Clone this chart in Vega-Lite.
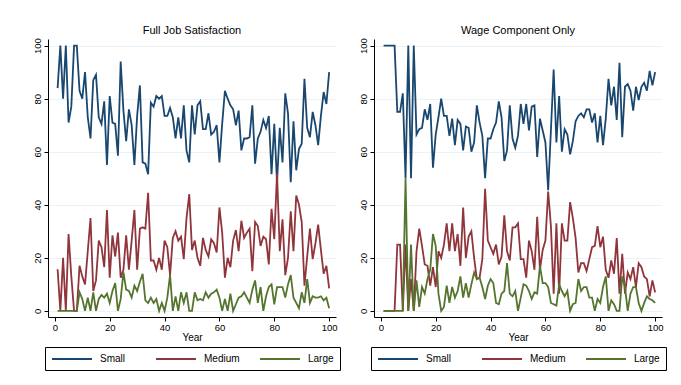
{
  "$schema": "https://vega.github.io/schema/vega-lite/v6.json",
  "background": "white",
  "padding": {"left": 5, "top": 24, "right": 5, "bottom": 5},
  "datasets": {
    "full": [
      {"Year":1,"Small":84,"Medium":15.7,"Large":0},{"Year":2,"Small":100,"Medium":0,"Large":0},{"Year":3,"Small":80,"Medium":20,"Large":0},{"Year":4,"Small":100,"Medium":0,"Large":0},{"Year":5,"Small":71,"Medium":29,"Large":0},
      {"Year":6,"Small":77,"Medium":13,"Large":0},{"Year":7,"Small":100,"Medium":0,"Large":0},{"Year":8,"Small":100,"Medium":0,"Large":0},{"Year":9,"Small":83,"Medium":17,"Large":7},{"Year":10,"Small":80,"Medium":13,"Large":4.5},
      {"Year":11,"Small":90,"Medium":10,"Large":0},{"Year":12,"Small":73,"Medium":22.5,"Large":5},{"Year":13,"Small":65,"Medium":35,"Large":0},{"Year":14,"Small":87,"Medium":7.5,"Large":7},{"Year":15,"Small":89,"Medium":11.5,"Large":0},
      {"Year":16,"Small":73,"Medium":26.5,"Large":4.5},{"Year":17,"Small":70.5,"Medium":24,"Large":6},{"Year":18,"Small":79,"Medium":16.5,"Large":5},{"Year":19,"Small":55,"Medium":38,"Large":6.5},{"Year":20,"Small":81,"Medium":12.5,"Large":3},
      {"Year":21,"Small":71,"Medium":28.5,"Large":7.5},{"Year":22,"Small":70.5,"Medium":20.5,"Large":10.5},{"Year":23,"Small":58.5,"Medium":29.5,"Large":0},{"Year":24,"Small":94,"Medium":12.5,"Large":4.5},{"Year":25,"Small":75.5,"Medium":15.5,"Large":14.5},
      {"Year":26,"Small":64,"Medium":28.5,"Large":8},{"Year":27,"Small":76,"Medium":15.5,"Large":7.5},{"Year":28,"Small":70,"Medium":26.5,"Large":5},{"Year":29,"Small":55,"Medium":38,"Large":9.5},{"Year":30,"Small":73.5,"Medium":15.5,"Large":7.5},
      {"Year":31,"Small":85,"Medium":31,"Large":11},{"Year":32,"Small":56,"Medium":31.5,"Large":14},{"Year":33,"Small":55.5,"Medium":31,"Large":4},{"Year":34,"Small":51.5,"Medium":44.5,"Large":3},{"Year":35,"Small":78.5,"Medium":19,"Large":5},
      {"Year":36,"Small":77,"Medium":19,"Large":3},{"Year":37,"Small":81,"Medium":15.5,"Large":4.5},{"Year":38,"Small":80,"Medium":20,"Large":0},{"Year":39,"Small":81,"Medium":15.5,"Large":3},{"Year":40,"Small":73.5,"Medium":26.5,"Large":0},
      {"Year":41,"Small":73.5,"Medium":24,"Large":5},{"Year":42,"Small":76.5,"Medium":13.5,"Large":13.5},{"Year":43,"Small":73,"Medium":27.5,"Large":0},{"Year":44,"Small":65,"Medium":30,"Large":5.5},{"Year":45,"Small":73,"Medium":26.5,"Large":0},
      {"Year":46,"Small":65,"Medium":28,"Large":7},{"Year":47,"Small":77.5,"Medium":19.5,"Large":3},{"Year":48,"Small":60.5,"Medium":35,"Large":7},{"Year":49,"Small":56,"Medium":44,"Large":0},{"Year":50,"Small":77.5,"Medium":23,"Large":0},
      {"Year":51,"Small":66.5,"Medium":26.5,"Large":7},{"Year":52,"Small":77.5,"Medium":20,"Large":4},{"Year":53,"Small":79,"Medium":17,"Large":4.5},{"Year":54,"Small":68.5,"Medium":27.5,"Large":4},{"Year":55,"Small":68.5,"Medium":23,"Large":7},
      {"Year":56,"Small":74.5,"Medium":20.5,"Large":5},{"Year":57,"Small":66.5,"Medium":27,"Large":6.5},{"Year":58,"Small":67.5,"Medium":25.5,"Large":7},{"Year":59,"Small":70,"Medium":22,"Large":8},{"Year":60,"Small":56,"Medium":39,"Large":5},
      {"Year":61,"Small":70.5,"Medium":29.5,"Large":0},{"Year":62,"Small":83,"Medium":12.5,"Large":4.5},{"Year":63,"Small":80,"Medium":20,"Large":0},{"Year":64,"Small":77.5,"Medium":16.5,"Large":6.5},{"Year":65,"Small":76,"Medium":26.5,"Large":0},
      {"Year":66,"Small":70,"Medium":30.5,"Large":2.5},{"Year":67,"Small":75.5,"Medium":22.5,"Large":5},{"Year":68,"Small":60.5,"Medium":34,"Large":5.5},{"Year":69,"Small":65,"Medium":27.5,"Large":7},{"Year":70,"Small":65,"Medium":29.5,"Large":5},
      {"Year":71,"Small":65.5,"Medium":31,"Large":3},{"Year":72,"Small":77.5,"Medium":15,"Large":8},{"Year":73,"Small":55.5,"Medium":33.5,"Large":11.5},{"Year":74,"Small":65,"Medium":32,"Large":3},{"Year":75,"Small":67.5,"Medium":24.5,"Large":9},
      {"Year":76,"Small":72,"Medium":28,"Large":0},{"Year":77,"Small":69,"Medium":27,"Large":5.5},{"Year":78,"Small":73.5,"Medium":17.5,"Large":9},{"Year":79,"Small":51.5,"Medium":38.5,"Large":10},{"Year":80,"Small":70.5,"Medium":27,"Large":2.5},
      {"Year":81,"Small":48.5,"Medium":52,"Large":9},{"Year":82,"Small":69,"Medium":22.5,"Large":9},{"Year":83,"Small":56,"Medium":34.5,"Large":9},{"Year":84,"Small":82,"Medium":13.5,"Large":5},{"Year":85,"Small":74.5,"Medium":20,"Large":10},
      {"Year":86,"Small":48.5,"Medium":37.5,"Large":13.5},{"Year":87,"Small":71.5,"Medium":22.5,"Large":5},{"Year":88,"Small":53,"Medium":43.5,"Large":3},{"Year":89,"Small":61,"Medium":40,"Large":1},{"Year":90,"Small":63,"Medium":33.5,"Large":7},
      {"Year":91,"Small":87.5,"Medium":9.5,"Large":3},{"Year":92,"Small":69,"Medium":20.5,"Large":12},{"Year":93,"Small":65.5,"Medium":31,"Large":3},{"Year":94,"Small":75,"Medium":19.5,"Large":5.5},{"Year":95,"Small":70,"Medium":25.5,"Large":5},
      {"Year":96,"Small":62.5,"Medium":32.5,"Large":5},{"Year":97,"Small":73.5,"Medium":23,"Large":5.5},{"Year":98,"Small":82.5,"Medium":14,"Large":4},{"Year":99,"Small":78,"Medium":17,"Large":5},{"Year":100,"Small":90,"Medium":8.5,"Large":1}
    ],
    "wage": [
      {"Year":1,"Small":100,"Medium":0,"Large":0},{"Year":2,"Small":100,"Medium":0,"Large":0},{"Year":3,"Small":100,"Medium":0,"Large":0},{"Year":4,"Small":100,"Medium":0,"Large":0},{"Year":5,"Small":100,"Medium":0,"Large":0},
      {"Year":6,"Small":75,"Medium":25,"Large":0},{"Year":7,"Small":75,"Medium":25,"Large":0},{"Year":8,"Small":82,"Medium":0,"Large":0},{"Year":9,"Small":50,"Medium":25,"Large":50},{"Year":10,"Small":100,"Medium":0,"Large":0},
      {"Year":11,"Small":50,"Medium":12,"Large":25},{"Year":12,"Small":100,"Medium":0,"Large":0},{"Year":13,"Small":66.5,"Medium":22.5,"Large":11.5},{"Year":14,"Small":68.5,"Medium":31,"Large":1.5},{"Year":15,"Small":69,"Medium":24.5,"Large":9},
      {"Year":16,"Small":76,"Medium":17.5,"Large":6.5},{"Year":17,"Small":72,"Medium":17,"Large":12},{"Year":18,"Small":78,"Medium":9.5,"Large":15.5},{"Year":19,"Small":54,"Medium":16.5,"Large":29},{"Year":20,"Small":66.5,"Medium":9,"Large":24.5},
      {"Year":21,"Small":73,"Medium":22.5,"Large":6.5},{"Year":22,"Small":80,"Medium":20,"Large":0},{"Year":23,"Small":73.5,"Medium":25,"Large":1.5},{"Year":24,"Small":73.5,"Medium":33,"Large":9.5},{"Year":25,"Small":66,"Medium":22.5,"Large":3},
      {"Year":26,"Small":72.5,"Medium":33,"Large":9},{"Year":27,"Small":62.5,"Medium":22.5,"Large":5},{"Year":28,"Small":72,"Medium":29,"Large":7.5},{"Year":29,"Small":70.5,"Medium":17,"Large":13},{"Year":30,"Small":60.5,"Medium":39,"Large":5},
      {"Year":31,"Small":69.5,"Medium":20,"Large":10.5},{"Year":32,"Small":69,"Medium":28,"Large":5},{"Year":33,"Small":60,"Medium":30,"Large":10},{"Year":34,"Small":63.5,"Medium":20,"Large":14.5},{"Year":35,"Small":77.5,"Medium":12,"Large":12},
      {"Year":36,"Small":71,"Medium":12.5,"Large":12.5},{"Year":37,"Small":66,"Medium":19.5,"Large":9},{"Year":38,"Small":50,"Medium":46,"Large":4.5},{"Year":39,"Small":65,"Medium":26.5,"Large":9.5},{"Year":40,"Small":65,"Medium":24,"Large":12},
      {"Year":41,"Small":68.5,"Medium":21.5,"Large":10.5},{"Year":42,"Small":71,"Medium":25,"Large":3},{"Year":43,"Small":79,"Medium":17.5,"Large":2.5},{"Year":44,"Small":73,"Medium":20.5,"Large":6.5},{"Year":45,"Small":56.5,"Medium":36,"Large":7.5},
      {"Year":46,"Small":60.5,"Medium":22.5,"Large":18},{"Year":47,"Small":77.5,"Medium":19,"Large":6.5},{"Year":48,"Small":65,"Medium":31.5,"Large":5.5},{"Year":49,"Small":61.5,"Medium":31.5,"Large":7.5},{"Year":50,"Small":66,"Medium":33,"Large":0},
      {"Year":51,"Small":78,"Medium":19.5,"Large":5},{"Year":52,"Small":70.5,"Medium":19.5,"Large":10},{"Year":53,"Small":78,"Medium":12.5,"Large":9.5},{"Year":54,"Small":68,"Medium":26.5,"Large":7.5},{"Year":55,"Small":77,"Medium":22.5,"Large":4.5},
      {"Year":56,"Small":77.5,"Medium":15.5,"Large":7},{"Year":57,"Small":58,"Medium":35.5,"Large":6.5},{"Year":58,"Small":72.5,"Medium":15.5,"Large":17},{"Year":59,"Small":68,"Medium":23,"Large":10.5},{"Year":60,"Small":63.5,"Medium":26.5,"Large":10.5},
      {"Year":61,"Small":45.5,"Medium":45,"Large":9},{"Year":62,"Small":68,"Medium":32,"Large":3},{"Year":63,"Small":91,"Medium":6.5,"Large":2.5},{"Year":64,"Small":63.5,"Medium":33,"Large":2},{"Year":65,"Small":81,"Medium":6.5,"Large":10},
      {"Year":66,"Small":60,"Medium":33,"Large":7.5},{"Year":67,"Small":68.5,"Medium":26.5,"Large":5.5},{"Year":68,"Small":66.5,"Medium":26.5,"Large":7.5},{"Year":69,"Small":59,"Medium":41,"Large":0},{"Year":70,"Small":64,"Medium":35,"Large":2.5},
      {"Year":71,"Small":71.5,"Medium":27.5,"Large":3},{"Year":72,"Small":73.5,"Medium":14.5,"Large":12},{"Year":73,"Small":74.5,"Medium":18,"Large":7.5},{"Year":74,"Small":73,"Medium":18,"Large":9},{"Year":75,"Small":76,"Medium":15,"Large":9},
      {"Year":76,"Small":76,"Medium":19.5,"Large":5},{"Year":77,"Small":71,"Medium":24,"Large":5},{"Year":78,"Small":74.5,"Medium":24.5,"Large":0},{"Year":79,"Small":63.5,"Medium":32,"Large":4.5},{"Year":80,"Small":73.5,"Medium":24,"Large":3},
      {"Year":81,"Small":62.5,"Medium":28,"Large":9},{"Year":82,"Small":72.5,"Medium":15.5,"Large":13},{"Year":83,"Small":87.5,"Medium":12.5,"Large":0},{"Year":84,"Small":77.5,"Medium":19,"Large":4},{"Year":85,"Small":84.5,"Medium":14,"Large":2.5},
      {"Year":86,"Small":72,"Medium":27.5,"Large":0},{"Year":87,"Small":93.5,"Medium":6.5,"Large":0},{"Year":88,"Small":65.5,"Medium":21.5,"Large":13},{"Year":89,"Small":84.5,"Medium":6.5,"Large":9},{"Year":90,"Small":85.5,"Medium":14.5,"Large":0},
      {"Year":91,"Small":83,"Medium":12,"Large":6.5},{"Year":92,"Small":75.5,"Medium":16.5,"Large":9},{"Year":93,"Small":84.5,"Medium":9,"Large":9},{"Year":94,"Small":79.5,"Medium":18,"Large":3},{"Year":95,"Small":84.5,"Medium":16.5,"Large":0},
      {"Year":96,"Small":86,"Medium":13,"Large":3},{"Year":97,"Small":83,"Medium":12,"Large":5.5},{"Year":98,"Small":90.5,"Medium":5.5,"Large":4.5},{"Year":99,"Small":85,"Medium":11.5,"Large":4},{"Year":100,"Small":90,"Medium":7,"Large":3}
    ]
  },
  "spacing": 16,
  "resolve": {"legend": {"color": "independent"}},
  "hconcat": [
    {
      "title": {"text": "Full Job Satisfaction"},
      "width": 288,
      "height": 278,
      "data": {"name": "full"},
      "transform": [{"fold": ["Small", "Medium", "Large"], "as": ["series", "value"]}],
      "mark": {"type": "line", "strokeWidth": 1.8},
      "encoding": {
        "x": {"field": "Year", "type": "quantitative", "scale": {"domain": [-2.5, 102.5], "nice": false, "zero": false}, "axis": {"values": [0, 20, 40, 60, 80, 100], "title": "Year", "grid": false}},
        "y": {"field": "value", "type": "quantitative", "scale": {"domain": [-2.3, 102.5], "nice": false}, "axis": {"values": [0, 20, 40, 60, 80, 100], "title": null, "labelAngle": -90, "minExtent": 43}},
        "color": {"field": "series", "type": "nominal", "sort": ["Small", "Medium", "Large"], "scale": {"domain": ["Small", "Medium", "Large"], "range": ["#1a476f", "#90353b", "#55752f"]}, "legend": {"title": null}}
      }
    },
    {
      "title": {"text": "Wage Component Only"},
      "width": 288,
      "height": 278,
      "data": {"name": "wage"},
      "transform": [{"fold": ["Small", "Medium", "Large"], "as": ["series", "value"]}],
      "mark": {"type": "line", "strokeWidth": 1.8},
      "encoding": {
        "x": {"field": "Year", "type": "quantitative", "scale": {"domain": [-2.5, 102.5], "nice": false, "zero": false}, "axis": {"values": [0, 20, 40, 60, 80, 100], "title": "Year", "grid": false}},
        "y": {"field": "value", "type": "quantitative", "scale": {"domain": [-2.3, 102.5], "nice": false}, "axis": {"values": [0, 20, 40, 60, 80, 100], "title": null, "labelAngle": -90}},
        "color": {"field": "series", "type": "nominal", "sort": ["Small", "Medium", "Large"], "scale": {"domain": ["Small", "Medium", "Large"], "range": ["#1a476f", "#90353b", "#55752f"]}, "legend": {"title": null}}
      }
    }
  ],
  "config": {
    "font": "Liberation Sans",
    "view": {"stroke": null},
    "title": {"fontSize": 11, "fontWeight": "normal", "color": "#000000", "offset": 2, "anchor": "middle"},
    "axis": {"domainColor": "#000000", "tickColor": "#000000", "tickSize": 4, "labelColor": "#000000", "labelFontSize": 9.5, "titleColor": "#000000", "titleFontSize": 10, "titleFontWeight": "normal", "gridColor": "#eaf2f3", "gridWidth": 1.2, "labelPadding": 2, "titlePadding": 1, "domainWidth": 1},
    "axisX": {"grid": false, "labelPadding": 1},
    "legend": {"orient": "bottom", "direction": "horizontal", "symbolType": "M-4,0H4", "symbolSize": 100, "symbolOffset": 15, "symbolStrokeWidth": 2, "labelFontSize": 10, "labelColor": "#000000", "strokeColor": "#000000", "padding": 6, "columnPadding": 16, "gridAlign": "all", "offset": 4, "labelOffset": 22, "layout": {"bottom": {"anchor": "middle"}}}
  }
}
